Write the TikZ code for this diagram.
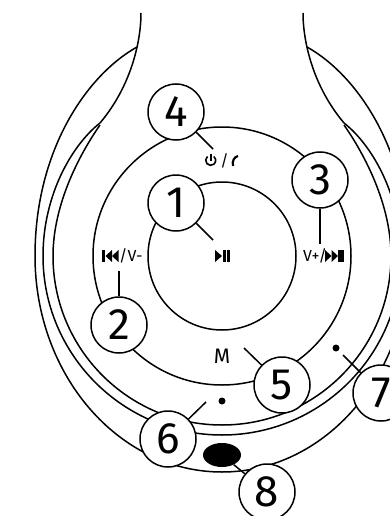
\documentclass[tikz,border=0pt]{standalone}
\usepackage{fontspec}
\setmainfont{Fira Sans}
\usetikzlibrary{shapes.geometric}
\tikzset{
  callout/.style={draw,circle,fill=white,line width=1.5pt,minimum size=56pt,inner sep=0pt,font=\fontsize{44}{44}\selectfont},
  keytext/.style={inner sep=0pt,font=\fontsize{16}{16}\selectfont},
  leader/.style={line width=1.5pt},
  band/.style={line width=1.5pt}
}
\begin{document}
\begin{tikzpicture}[x=1pt,y=-1pt]
  \useasboundingbox (0,0) rectangle (390,516);
  \clip (0,0) rectangle (390,516);
  \coordinate (hub) at (222,256);
  \foreach \s in {1,-1} {
    \begin{scope}[shift={(222,0)},xscale=\s]
      \draw[band] (-81,13) .. controls (-81,40) and (-90,85) .. (-122,123); % head side
      \draw[band] (-85,47) .. controls (-135,75) and (-187,150) .. (-187,256)
        arc[start angle=180,end angle=90,x radius=187,y radius=216]; % outer edge
      \draw[band] (-122,123) .. controls (-150,145) and (-179,195) .. (-179,256)
        arc[start angle=180,end angle=90,radius=179]; % middle edge
      \draw[band] (-122,125) .. controls (-143,155) and (-169,205) .. (-169,256)
        arc[start angle=180,end angle=90,radius=169]; % inner edge
    \end{scope}
  }
  \draw[line width=1.5pt] (hub) circle[radius=129]; % ring
  \draw[line width=1.5pt] (hub) circle[radius=74]; % centre key
  \fill (336,348) circle[radius=3.5]; % right dot
  \fill (222,401) circle[radius=3.5]; % left dot
  \node[ellipse,fill=black,minimum width=38pt,minimum height=24pt,inner sep=0pt] (mic) at (222,455) {};
  % key symbols
  \fill (215,250) -- (222,256) -- (215,262) -- cycle; % play
  \fill (223,250) rectangle (226,262);
  \fill (227,250) rectangle (230,262);
  \node[keytext,anchor=west] (volup) at (303,256) {V+/};
  \foreach \p in {325,331.5} \fill (\p,250) -- (\p+6.5,256) -- (\p,262) -- cycle; % next
  \fill (338,250) rectangle (344,262);
  \fill (102,250) rectangle (105,262); % previous
  \foreach \p in {112,118.5} \fill (\p,250) -- (\p-6.5,256) -- (\p,262) -- cycle;
  \node[keytext,anchor=west] (voldown) at (119,256) {/V-};
  \draw[line width=1.6pt] (207.5,156.5) arc[start angle=-130,end angle=-410,radius=5]; % power
  \draw[line width=1.6pt] (211,153.5) -- (211,161);
  \node[keytext] (slash) at (224.5,160.5) {/};
  \draw[line width=2.2pt] (238,156) .. controls (234,157) and (232,161) .. (233,166); % phone
  \node[inner sep=0pt,font=\fontsize{21}{21}\selectfont] (mode) at (222,356) {M};
  % callouts
  \node[callout] (num1) at (176,203) {1};
  \node[callout] (num2) at (119,325) {2};
  \node[callout] (num3) at (320,180) {3};
  \node[callout] (num4) at (176,112) {4};
  \node[callout] (num5) at (282,385) {5};
  \node[callout] (num6) at (168,439) {6};
  \node[callout] (num7) at (381,393) {7};
  \node[callout] (num8) at (267,492) {8};
  \coordinate (tip1) at (213,240);
  \coordinate (tip2) at (119,271);
  \coordinate (tip3) at (320,244);
  \coordinate (tip4) at (213,149);
  \coordinate (tip5) at (244,348);
  \coordinate (tip6) at (206,402);
  \coordinate (tip7) at (343,355);
  \draw[leader] (num1) -- (tip1);
  \draw[leader] (num2) -- (tip2);
  \draw[leader] (num3) -- (tip3);
  \draw[leader] (num4) -- (tip4);
  \draw[leader] (num5) -- (tip5);
  \draw[leader] (num6) -- (tip6);
  \draw[leader] (num7) -- (tip7);
  \draw[leader] (num8) -- (mic);
\end{tikzpicture}
\end{document}
